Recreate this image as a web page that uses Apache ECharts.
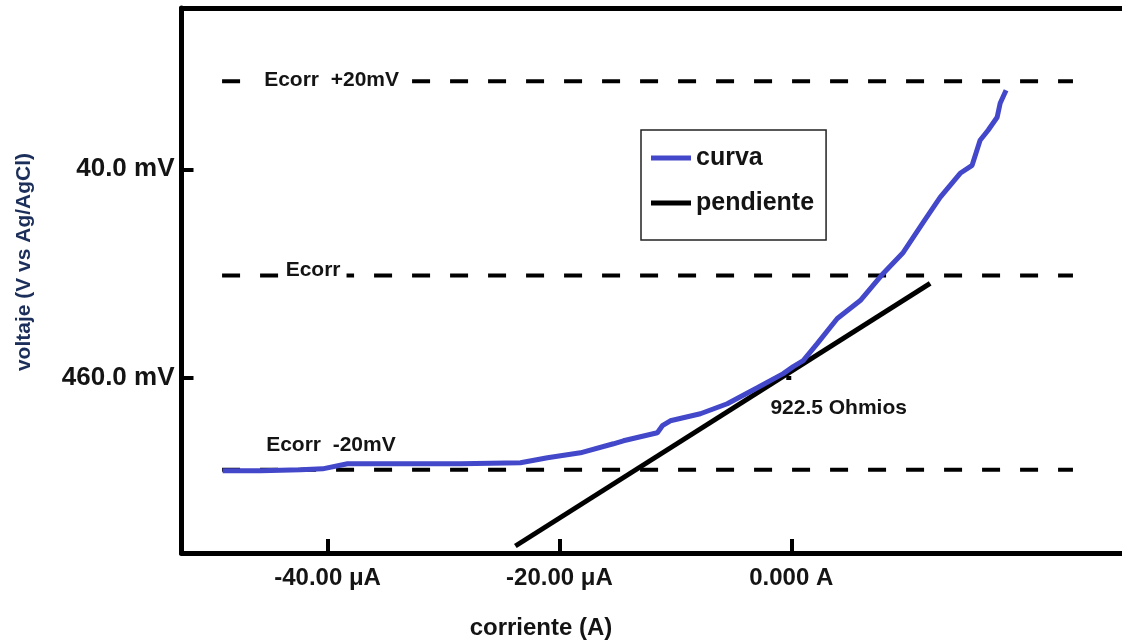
<!DOCTYPE html>
<html>
<head>
<meta charset="utf-8">
<script src="https://cdn.jsdelivr.net/npm/echarts@6/dist/echarts.min.js"></script>
<style>
  html, body { margin: 0; padding: 0; background: #fff; }
  #chart { width: 1122px; height: 643px; }
</style>
</head>
<body>
<div id="chart"></div>
<script>
// Polarization curve: current in µA, potential in mV relative to Ecorr
const curvaCurrent = [-49.05, -45.78, -42.33, -40.43, -38.28, -33.71, -28.53, -23.36, -21.03, -18.19,
  -15.34, -14.48, -11.55, -11.12, -10.43, -7.84, -5.52, -2.93, -0.69, 0.17, 1.03, 2.24, 3.97, 5.95,
  7.93, 9.66, 11.38, 12.84, 14.57, 15.60, 16.29, 16.98, 17.76, 18.02, 18.53];
const curvaPotential = [-20.10, -20.10, -20.00, -19.90, -19.38, -19.38, -19.38, -19.28, -18.76, -18.25,
  -17.32, -17.01, -16.19, -15.46, -14.95, -14.23, -13.20, -11.55, -10.10, -9.38, -8.76, -7.01, -4.43, -2.58,
  0.21, 2.37, 5.46, 8.04, 10.52, 11.34, 13.92, 14.95, 16.29, 17.73, 19.07];

// Linear fit (pendiente) end points
const pendienteCurrent = [-23.8, 11.98];
const pendientePotential = [-27.84, -0.82];

// Reference potential levels and their horizontal span
const ecorrOffsets = [20, 0, -20];
const ecorrSpan = [-49.1, 24.3];

// Axis ticks
const xTickValues = [-40, -20, 0];
const xTickLabels = ['-40.00 μA', '-20.00 μA', '0.000 A'];
const yTickValues = [10.93, -10.52];
const yTickLabels = ['40.0 mV', '460.0 mV'];

const X_MIN = -52.6, X_MAX = 28.53;
const Y_MIN = -28.56, Y_MAX = 27.53;
const FONT = '"Liberation Sans", Arial, sans-serif';
const INK = '#141414';

function pickLabel(values, labels) {
  return function (v) {
    for (let i = 0; i < values.length; i++) {
      if (Math.abs(values[i] - v) < 1e-6) return labels[i];
    }
    return '';
  };
}

const curvaData = curvaCurrent.map((c, i) => [c, curvaPotential[i]]);
const pendienteData = pendienteCurrent.map((c, i) => [c, pendientePotential[i]]);

const ecorrSeries = ecorrOffsets.map(v => ({
  type: 'line',
  name: 'Ecorr ' + v,
  data: ecorrSpan.map(c => [c, v]),
  symbol: 'none',
  silent: true,
  z: 1,
  lineStyle: { color: '#000', width: 4, type: [18, 20] }
}));

const noteStyle = {
  show: true, position: 'right', distance: 0,
  fontFamily: FONT, fontSize: 21, fontWeight: 'bold', color: INK, opacity: 1
};

const notes = {
  type: 'scatter',
  name: 'notas',
  symbolSize: 0,
  silent: true,
  z: 5,
  itemStyle: { opacity: 1 },
  data: [
    { value: [-45.9, 20.1], label: Object.assign({}, noteStyle, { formatter: 'Ecorr  +20mV', backgroundColor: '#fff', padding: [2, 8, 2, 5] }) },
    { value: [-43.7, 0.5], label: Object.assign({}, noteStyle, { formatter: 'Ecorr', backgroundColor: '#fff', padding: [0, 6, 0, 1] }) },
    { value: [-45.3, -17.5], label: Object.assign({}, noteStyle, { formatter: 'Ecorr  -20mV' }) },
    { value: [-1.8, -13.7], label: Object.assign({}, noteStyle, { formatter: '922.5 Ohmios' }) }
  ]
};

const chart = echarts.init(document.getElementById('chart'), null, { renderer: 'canvas' });

chart.setOption({
  animation: false,
  backgroundColor: '#fff',
  grid: { left: 181.5, right: 0, top: 8, bottom: 90, containLabel: false, outerBoundsMode: 'none' },
  legend: {
    data: ['curva', 'pendiente'],
    orient: 'vertical',
    left: 641,
    top: 130,
    padding: [14, 12, 23, 10],
    itemGap: 17,
    itemWidth: 40,
    itemHeight: 5,
    itemTextGap: 13,
    icon: 'rect',
    borderColor: '#222',
    borderWidth: 1.5,
    backgroundColor: '#fff',
    textStyle: { fontFamily: FONT, fontSize: 25, fontWeight: 'bold', color: INK, lineHeight: 28 }
  },
  xAxis: [
    {
      type: 'value', position: 'bottom', min: X_MIN, max: X_MAX,
      axisLine: { show: true, onZero: false, lineStyle: { color: '#000', width: 5 } },
      axisTick: { show: true, inside: true, length: 14, customValues: xTickValues, lineStyle: { color: '#000', width: 4 } },
      axisLabel: {
        show: true, customValues: xTickValues, margin: 13,
        formatter: pickLabel(xTickValues, xTickLabels),
        fontFamily: FONT, fontSize: 24, fontWeight: 'bold', color: INK
      },
      splitLine: { show: false }
    },
    {
      type: 'value', position: 'top', min: X_MIN, max: X_MAX,
      axisLine: { show: true, onZero: false, lineStyle: { color: '#000', width: 5 } },
      axisTick: { show: false }, axisLabel: { show: false }, splitLine: { show: false }
    }
  ],
  yAxis: [
    {
      type: 'value', position: 'left', min: Y_MIN, max: Y_MAX,
      axisLine: { show: true, onZero: false, lineStyle: { color: '#000', width: 5 } },
      axisTick: { show: true, inside: true, length: 12, customValues: yTickValues, lineStyle: { color: '#000', width: 4 } },
      axisLabel: {
        show: true, customValues: yTickValues, margin: 7,
        formatter: pickLabel(yTickValues, yTickLabels),
        fontFamily: FONT, fontSize: 26, fontWeight: 'bold', color: INK,
        padding: [0, 0, 20, 0]
      },
      splitLine: { show: false }
    },
    {
      type: 'value', position: 'left', min: Y_MIN, max: Y_MAX, offset: 0,
      axisLine: { show: false },
      axisTick: { show: true, inside: false, length: 5, customValues: yTickValues, lineStyle: { color: '#000', width: 4 } },
      axisLabel: { show: false }, splitLine: { show: false }
    }
  ],
  graphic: [
    {
      type: 'text', x: 541, y: 628,
      style: { text: 'corriente (A)', fontFamily: FONT, fontSize: 24, fontWeight: 'bold', fill: INK, align: 'center', verticalAlign: 'middle' }
    },
    {
      type: 'text', x: 24, y: 262, rotation: Math.PI / 2,
      style: { text: 'voltaje (V vs Ag/AgCl)', fontFamily: FONT, fontSize: 21, fontWeight: 'bold', fill: '#1b2f5a', align: 'center', verticalAlign: 'middle' }
    }
  ],
  series: ecorrSeries.concat([
    {
      type: 'line', name: 'pendiente', data: pendienteData, symbol: 'none', z: 3,
      itemStyle: { color: '#000' },
      lineStyle: { color: '#000', width: 5 }
    },
    {
      type: 'line', name: 'curva', data: curvaData, symbol: 'none', z: 4,
      itemStyle: { color: '#4347c9' },
      lineStyle: { color: '#4347c9', width: 5 }
    },
    notes
  ])
});
</script>
</body>
</html>
